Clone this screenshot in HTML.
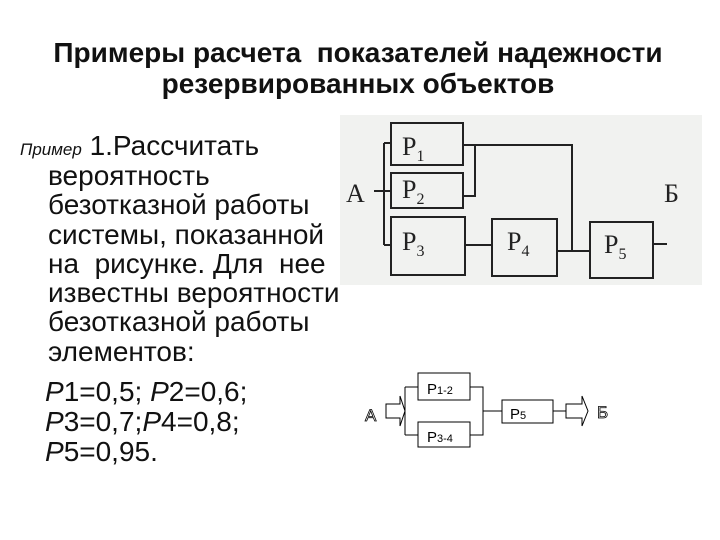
<!DOCTYPE html>
<html><head><meta charset="utf-8"><style>
body{margin:0;width:720px;height:540px;background:#fff;position:relative;overflow:hidden;font-family:"Liberation Sans",sans-serif}
.t{position:absolute;left:0;width:716px;text-align:center;font-weight:bold;font-size:28px;line-height:31px;color:#111;white-space:nowrap}
.b{position:absolute;left:48px;font-size:28px;color:#111;white-space:nowrap;line-height:29.3px}
</style></head><body>
<div class="t" style="top:37px">Примеры расчета&nbsp; показателей надежности<br>резервированных объектов</div>
<div class="b" style="top:131px;left:20px"><i style="font-size:17px">Пример</i> 1.Рассчитать</div>
<div class="b" style="top:161px">вероятность<br>безотказной работы<br>системы, показанной<br>на&nbsp; рисунке. Для&nbsp; нее<br>известны вероятности<br>безотказной работы<br>элементов:</div>
<div class="b" style="top:377px;left:45px;line-height:30px"><i>P</i>1=0,5; <i>P</i>2=0,6;<br><i>P</i>3=0,7;<i>P</i>4=0,8;<br><i>P</i>5=0,95.</div>
<svg width="720" height="540" style="position:absolute;left:0;top:0">
<rect x="340" y="115" width="362" height="170" fill="#f1f2f0"/>
<g fill="none" stroke="#222" stroke-width="2">
<rect x="391" y="123" width="72" height="42"/>
<rect x="391" y="173" width="72" height="35"/>
<rect x="391" y="217" width="74" height="58"/>
<rect x="492" y="219" width="65" height="57"/>
<rect x="590" y="222" width="63" height="56"/>
<path d="M384 143V245M384 143H391M384 191H391M384 245H391M374 191H384"/>
<path d="M463 145H572V251M463 145H475V196H463"/>
<path d="M465 245H492M557 251H590M653 244H667"/>
</g>
<g font-family="Liberation Serif,serif" font-size="26" fill="#222">
<text x="346" y="202">А</text><text x="664" y="202">Б</text>
<text x="402" y="155">P<tspan font-size="16" dy="6">1</tspan></text>
<text x="402" y="198">P<tspan font-size="16" dy="6">2</tspan></text>
<text x="402" y="250">P<tspan font-size="16" dy="6">3</tspan></text>
<text x="507" y="250">P<tspan font-size="16" dy="6">4</tspan></text>
<text x="604" y="253">P<tspan font-size="16" dy="6">5</tspan></text>
</g>
<g fill="none" stroke="#000" stroke-width="1">
<rect x="418" y="373" width="52" height="27"/>
<rect x="418" y="422" width="52" height="25"/>
<rect x="502" y="400" width="51" height="23"/>
<path d="M405 387V435M405 387H418M405 435H418M470 387H483V435H470M483 411H502M553 411H566"/>
<path d="M386 404H400V396L405 411L400 426V418H386Z"/>
<path d="M566 404H582V396L588 411L582 426V418H566Z"/>
</g>
<g font-family="Liberation Sans,sans-serif" fill="#000">
<text x="427" y="394" font-size="15">P<tspan font-size="11">1-2</tspan></text>
<text x="427" y="442" font-size="15">P<tspan font-size="11">3-4</tspan></text>
<text x="510" y="419" font-size="15">P<tspan font-size="11">5</tspan></text>
<text x="365" y="421" font-size="17" fill="#fff" stroke="#000" stroke-width="0.8">А</text>
<text x="597" y="418" font-size="17" fill="#fff" stroke="#000" stroke-width="0.8">Б</text>
</g>
</svg>
</body></html>
